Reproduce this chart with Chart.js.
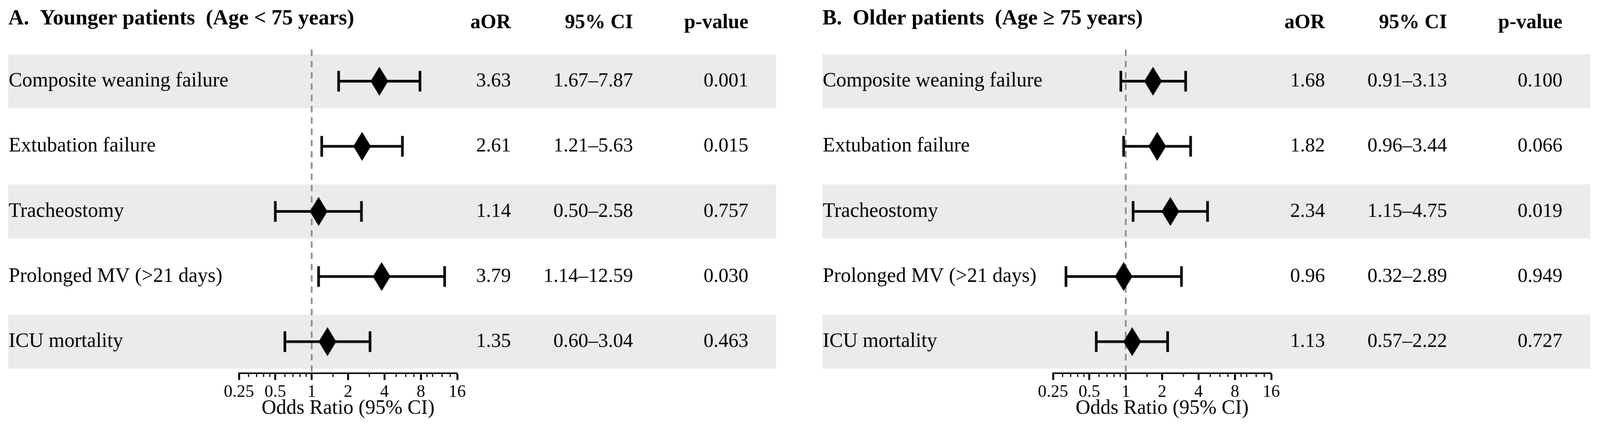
<!DOCTYPE html>
<html>
<head>
<meta charset="utf-8">
<script src="https://cdn.jsdelivr.net/npm/chart.js@4.4.1/dist/chart.umd.min.js"></script>
<style>
  html, body { margin: 0; padding: 0; background: #fff; overflow: hidden; }
  canvas { position: absolute; top: 0; }
</style>
</head>
<body>
<!-- sized from the window width so the 4258x1142 layout fills it whatever the pixel ratio -->
<canvas id="chartA" width="2092" height="1142" style="left: 0; width: calc(100vw * 2092 / 4258); height: calc(100vw * 1142 / 4258);"></canvas>
<canvas id="chartB" width="2092" height="1142" style="left: calc(100vw * 2166 / 4258); width: calc(100vw * 2092 / 4258); height: calc(100vw * 1142 / 4258);"></canvas>
<script>
// outcomes, top to bottom
const outcomes = ['Composite weaning failure', 'Extubation failure', 'Tracheostomy', 'Prolonged MV (>21 days)', 'ICU mortality'];
const rowPos = [5, 4, 3, 2, 1];

// A. younger patients
const youngOR = [3.63, 2.61, 1.14, 3.79, 1.35];
const youngLo = [1.67, 1.21, 0.50, 1.14, 0.60];
const youngHi = [7.87, 5.63, 2.58, 12.59, 3.04];
const youngP = ['0.001', '0.015', '0.757', '0.030', '0.463'];

// B. older patients
const oldOR = [1.68, 1.82, 2.34, 0.96, 1.13];
const oldLo = [0.91, 0.96, 1.15, 0.32, 0.57];
const oldHi = [3.13, 3.44, 4.75, 2.89, 2.22];
const oldP = ['0.100', '0.066', '0.019', '0.949', '0.727'];

const majorTicks = [0.25, 0.5, 1, 2, 4, 8, 16];
const minorTicks = [0.3, 0.35, 0.4, 0.45, 0.6, 0.7, 0.8, 0.9, 1.5, 3, 5, 6, 7, 9, 10, 12, 14];

const headers = ['aOR', '95% CI', 'p-value'];

const SERIF = 'Liberation Serif';
Chart.defaults.font.family = SERIF;
Chart.defaults.color = '#000';

const Y_MIN = 0.515, Y_MAX = 5.485;
const BAND_HALF = 0.4156;

// diamond marker
const diamond = document.createElement('canvas');
diamond.width = 47;
diamond.height = 77;
(function () {
  const c = diamond.getContext('2d');
  c.fillStyle = '#000';
  c.beginPath();
  c.moveTo(23.5, 0);
  c.lineTo(47, 38.5);
  c.lineTo(23.5, 77);
  c.lineTo(0, 38.5);
  c.closePath();
  c.fill();
})();

function makeForest(id, title, or, lo, hi, p) {
  const ctx = document.getElementById(id).getContext('2d');

  const datasets = [];
  datasets.push({
    data: [{ x: 1, y: Y_MAX }, { x: 1, y: Y_MIN }],
    showLine: true,
    borderColor: '#8c8c8c',
    borderWidth: 4.5,
    borderDash: [17, 13],
    pointRadius: 0,
    order: 3
  });
  outcomes.forEach((name, i) => {
    datasets.push({
      data: [{ x: lo[i], y: rowPos[i] }, { x: hi[i], y: rowPos[i] }],
      showLine: true,
      borderColor: '#000',
      borderWidth: 7,
      borderCapStyle: 'butt',
      pointStyle: 'line',
      pointRotation: 90,
      pointRadius: 27.5,
      pointBorderWidth: 7,
      pointBorderColor: '#000',
      order: 2
    });
  });
  datasets.push({
    data: or.map((v, i) => ({ x: v, y: rowPos[i] })),
    pointStyle: diamond,
    pointRadius: 38,
    order: 1
  });

  const tablePlugin = {
    id: 'forestTable',
    beforeDatasetsDraw(chart) {
      const c = chart.ctx;
      const ys = chart.scales.y;
      c.save();
      c.fillStyle = '#ebebeb';
      rowPos.forEach((r, i) => {
        if (i % 2 !== 0) return;
        const top = ys.getPixelForValue(r + BAND_HALF);
        const bot = ys.getPixelForValue(r - BAND_HALF);
        c.fillRect(22, top, 2044, bot - top);
      });
      c.restore();
    },
    afterDraw(chart) {
      const c = chart.ctx;
      const ys = chart.scales.y;
      const xs = chart.scales.x;
      c.save();
      // minor ticks
      c.strokeStyle = '#000';
      c.lineWidth = 3;
      minorTicks.forEach(v => {
        const px = xs.getPixelForValue(v);
        c.beginPath();
        c.moveTo(px, xs.top);
        c.lineTo(px, xs.top + 10);
        c.stroke();
      });
      // title and headers
      c.fillStyle = '#000';
      c.textBaseline = 'alphabetic';
      c.textAlign = 'left';
      c.font = 'bold 57px "' + SERIF + '"';
      c.fillText(title, 22, 65);
      c.font = 'bold 54px "' + SERIF + '"';
      c.textAlign = 'right';
      const colX = [1360, 1685, 1992];
      headers.forEach((h, k) => c.fillText(h, colX[k], 75));
      // rows
      outcomes.forEach((name, i) => {
        const y = ys.getPixelForValue(rowPos[i]) + 14;
        c.textAlign = 'left';
        c.font = '54px "' + SERIF + '"';
        c.fillText(name, 23, y);
        c.textAlign = 'right';
        c.font = '53px "' + SERIF + '"';
        c.fillText(or[i].toFixed(2), colX[0], y);
        c.fillText(lo[i].toFixed(2) + '\u2013' + hi[i].toFixed(2), colX[1], y);
        c.fillText(p[i], colX[2], y);
      });
      c.restore();
    }
  };

  return new Chart(ctx, {
    type: 'scatter',
    data: { datasets },
    options: {
      responsive: false,
      devicePixelRatio: 1,
      animation: false,
      events: [],
      layout: { padding: { top: 132, bottom: 22.6, left: 636, right: 875 } },
      plugins: { legend: { display: false }, tooltip: { enabled: false } },
      scales: {
        x: {
          type: 'logarithmic',
          min: 0.25,
          max: 16,
          bounds: 'data',
          afterBuildTicks: (s) => { s.ticks = majorTicks.map(v => ({ value: v })); },
          afterFit: (s) => { s.height = 126.4; },
          ticks: {
            callback: (v) => String(v),
            font: { size: 46 },
            padding: 5,
            autoSkip: false,
            maxRotation: 0,
            major: { enabled: false }
          },
          grid: {
            drawOnChartArea: false,
            drawTicks: true,
            tickLength: 18,
            tickWidth: 5,
            tickColor: '#000'
          },
          border: { display: true, width: 4, color: '#000' },
          title: {
            display: true,
            text: 'Odds Ratio (95% CI)',
            font: { size: 54 },
            padding: { top: 0, bottom: 0 }
          }
        },
        y: {
          type: 'linear',
          display: false,
          min: Y_MIN,
          max: Y_MAX
        }
      }
    },
    plugins: [tablePlugin]
  });
}

makeForest('chartA', 'A.  Younger patients  (Age < 75 years)', youngOR, youngLo, youngHi, youngP);
makeForest('chartB', 'B.  Older patients  (Age \u2265 75 years)', oldOR, oldLo, oldHi, oldP);
</script>
</body>
</html>
